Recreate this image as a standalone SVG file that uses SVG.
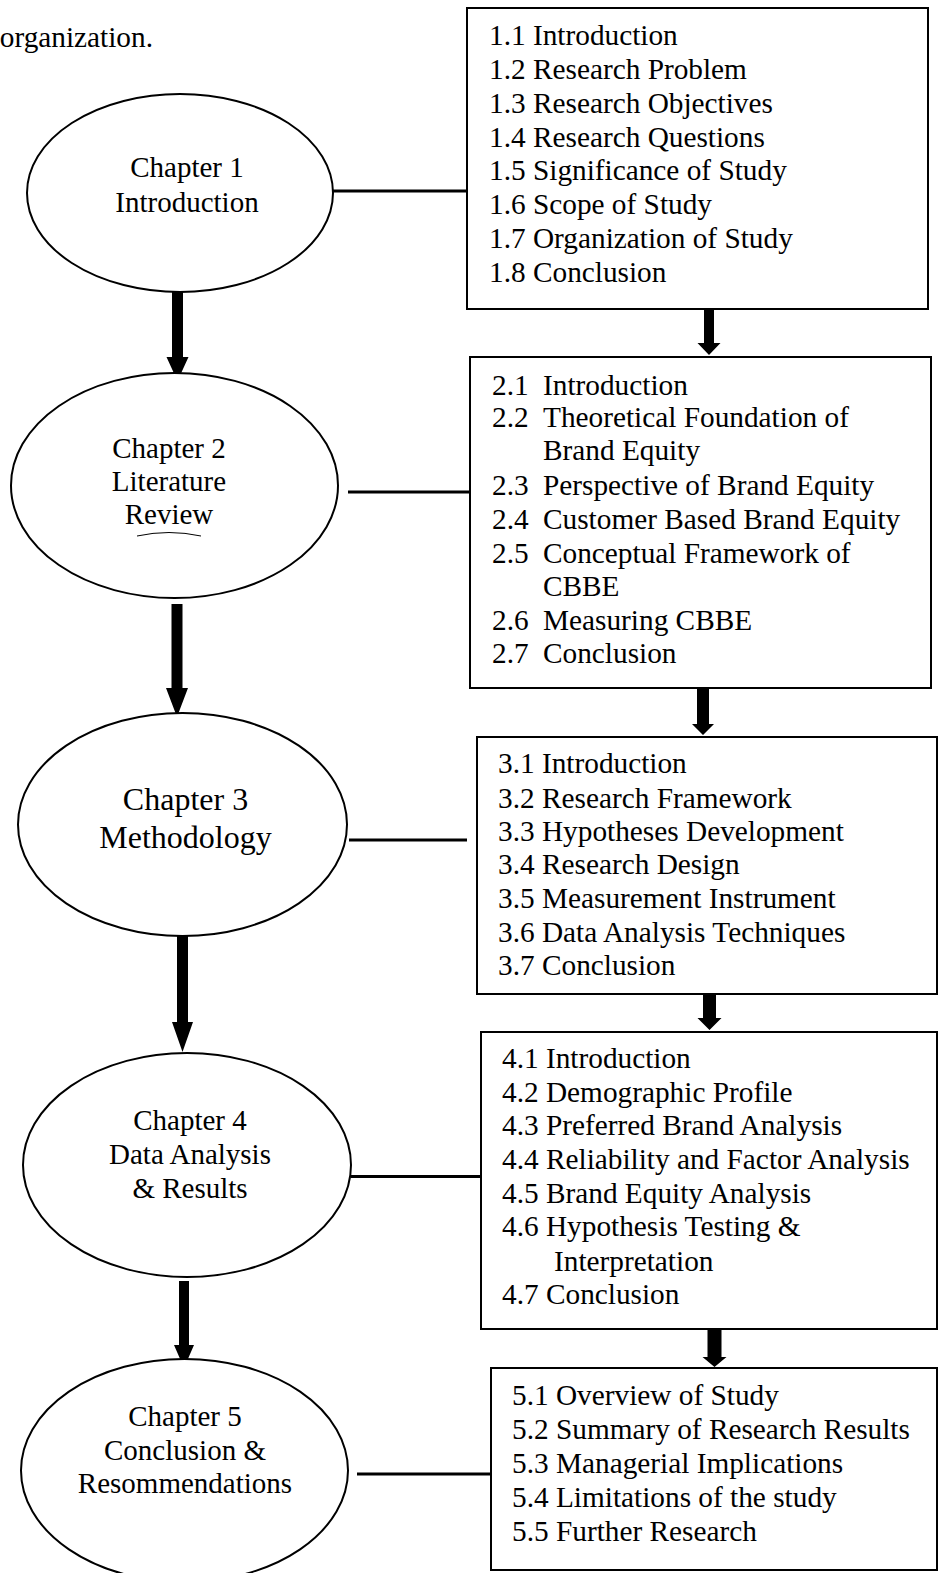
<svg xmlns="http://www.w3.org/2000/svg" width="939" height="1573" viewBox="0 0 939 1573">
<style>
text{font-family:"Liberation Serif","Times New Roman",serif;fill:#000}
.t{font-size:29.3px}
.c{font-size:29px;text-anchor:middle}
.c3{font-size:32px;text-anchor:middle}
.ell{fill:#fff;stroke:#000;stroke-width:2}
.box{fill:#fff;stroke:#000;stroke-width:2}
.ln{stroke:#000;stroke-width:3;fill:none}
.ar{fill:#000;stroke:none}
</style>
<rect width="939" height="1573" fill="#fff"/>
<text class="t" x="153" y="47" text-anchor="end">organization.</text>

<g id="connectors">
<line class="ln" x1="333" y1="191" x2="467" y2="191"/>
<line class="ln" x1="348" y1="492" x2="470" y2="492"/>
<line class="ln" x1="349" y1="840" x2="467" y2="840"/>
<line class="ln" x1="351" y1="1176.5" x2="481" y2="1176.5"/>
<line class="ln" x1="357" y1="1474" x2="491" y2="1474"/>
<path class="ar" d="M172,292 L183,292 L183,357 L188.5,357 L177.5,381 L166.5,357 L172,357 Z"/>
<path class="ar" d="M171.5,604 L182.5,604 L182.5,688 L188,688 L177,717 L166,688 L171.5,688 Z"/>
<path class="ar" d="M177,936 L188,936 L188,1022 L193,1022 L182.5,1052 L172,1022 L177,1022 Z"/>
<path class="ar" d="M179,1281 L189,1281 L189,1345 L194,1345 L184,1368 L174,1345 L179,1345 Z"/>
<path class="ar" d="M704,309 L714,309 L714,343 L720.5,343 L709,355 L697.5,343 L704,343 Z"/>
<path class="ar" d="M697,687 L709,687 L709,724 L714,724 L703,735 L692,724 L697,724 Z"/>
<path class="ar" d="M703,994 L716,994 L716,1018 L721.5,1018 L709.5,1030 L697.5,1018 L703,1018 Z"/>
<path class="ar" d="M707.5,1329 L721.5,1329 L721.5,1357 L726.5,1357 L714.5,1367 L702.5,1357 L707.5,1357 Z"/>
</g>

<g id="chapter1">
<ellipse class="ell" cx="180" cy="193" rx="153" ry="99"/>
<text class="c" x="187" y="177">Chapter 1</text>
<text class="c" x="187" y="212">Introduction</text>
</g>

<g id="chapter2">
<ellipse class="ell" cx="174.5" cy="485.5" rx="163.5" ry="112.5"/>
<text class="c" x="169" y="458">Chapter 2</text>
<text class="c" x="169" y="491">Literature</text>
<text class="c" x="169" y="524">Review</text>
<path d="M137,536 Q169,529 201,536" fill="none" stroke="#000" stroke-width="1"/>
</g>

<g id="chapter3">
<ellipse class="ell" cx="182.5" cy="824.5" rx="164.5" ry="111.5"/>
<text class="c3" x="185.5" y="810">Chapter 3</text>
<text class="c3" x="185.5" y="848">Methodology</text>
</g>

<g id="chapter4">
<ellipse class="ell" cx="187" cy="1165" rx="164" ry="112"/>
<text class="c" x="190" y="1130">Chapter 4</text>
<text class="c" x="190" y="1164">Data Analysis</text>
<text class="c" x="190" y="1198">&amp; Results</text>
</g>

<g id="chapter5">
<ellipse class="ell" cx="184.5" cy="1470.5" rx="163.5" ry="111.5"/>
<text class="c" x="185" y="1426">Chapter 5</text>
<text class="c" x="185" y="1460">Conclusion &amp;</text>
<text class="c" x="185" y="1493">Resommendations</text>
</g>

<g id="box1">
<rect class="box" x="467" y="8" width="461" height="301"/>
<text class="t" x="489" y="45">1.1 Introduction</text>
<text class="t" x="489" y="79">1.2 Research Problem</text>
<text class="t" x="489" y="112.7">1.3 Research Objectives</text>
<text class="t" x="489" y="146.7">1.4 Research Questions</text>
<text class="t" x="489" y="180">1.5 Significance of Study</text>
<text class="t" x="489" y="214">1.6 Scope of Study</text>
<text class="t" x="489" y="247.7">1.7 Organization of Study</text>
<text class="t" x="489" y="281.7">1.8 Conclusion</text>
</g>

<g id="box2">
<rect class="box" x="470" y="357" width="461" height="331"/>
<text class="t" x="492" y="395">2.1</text><text class="t" x="543" y="395">Introduction</text>
<text class="t" x="492" y="427">2.2</text><text class="t" x="543" y="427">Theoretical Foundation of</text>
<text class="t" x="543" y="460">Brand Equity</text>
<text class="t" x="492" y="495">2.3</text><text class="t" x="543" y="495">Perspective of Brand Equity</text>
<text class="t" x="492" y="529">2.4</text><text class="t" x="543" y="529">Customer Based Brand Equity</text>
<text class="t" x="492" y="563">2.5</text><text class="t" x="543" y="563">Conceptual Framework of</text>
<text class="t" x="543" y="596">CBBE</text>
<text class="t" x="492" y="630">2.6</text><text class="t" x="543" y="630">Measuring CBBE</text>
<text class="t" x="492" y="663">2.7</text><text class="t" x="543" y="663">Conclusion</text>
</g>

<g id="box3">
<rect class="box" x="477" y="737" width="460" height="257"/>
<text class="t" x="498" y="773">3.1 Introduction</text>
<text class="t" x="498" y="808">3.2 Research Framework</text>
<text class="t" x="498" y="841">3.3 Hypotheses Development</text>
<text class="t" x="498" y="874">3.4 Research Design</text>
<text class="t" x="498" y="908">3.5 Measurement Instrument</text>
<text class="t" x="498" y="942">3.6 Data Analysis Techniques</text>
<text class="t" x="498" y="975">3.7 Conclusion</text>
</g>

<g id="box4">
<rect class="box" x="481" y="1032" width="456" height="297"/>
<text class="t" x="502" y="1068">4.1 Introduction</text>
<text class="t" x="502" y="1102">4.2 Demographic Profile</text>
<text class="t" x="502" y="1135">4.3 Preferred Brand Analysis</text>
<text class="t" x="502" y="1169">4.4 Reliability and Factor Analysis</text>
<text class="t" x="502" y="1203">4.5 Brand Equity Analysis</text>
<text class="t" x="502" y="1236">4.6 Hypothesis Testing &amp;</text>
<text class="t" x="554" y="1271">Interpretation</text>
<text class="t" x="502" y="1304">4.7 Conclusion</text>
</g>

<g id="box5">
<rect class="box" x="491" y="1368" width="446" height="202"/>
<text class="t" x="512" y="1405">5.1 Overview of Study</text>
<text class="t" x="512" y="1439">5.2 Summary of Research Results</text>
<text class="t" x="512" y="1473">5.3 Managerial Implications</text>
<text class="t" x="512" y="1507">5.4 Limitations of the study</text>
<text class="t" x="512" y="1541">5.5 Further Research</text>
</g>
</svg>
